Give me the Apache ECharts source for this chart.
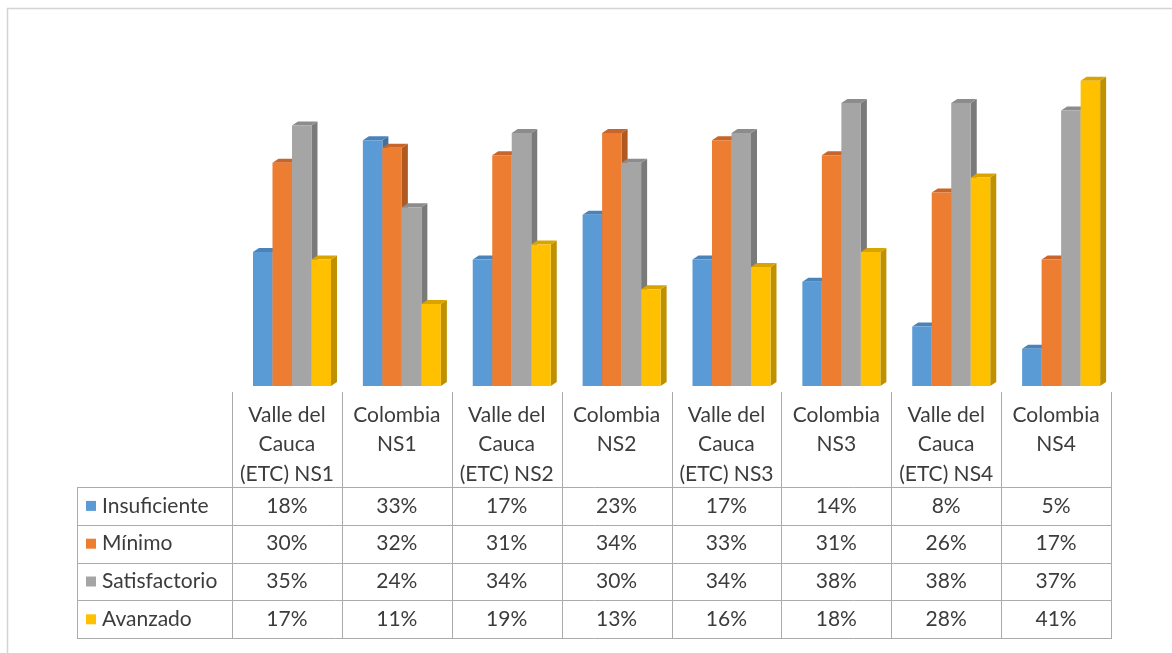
<!DOCTYPE html>
<html>
<head>
<meta charset="utf-8">
<script src="https://cdn.jsdelivr.net/npm/echarts@6/dist/echarts.min.js"></script>
<style>
html,body{margin:0;padding:0;background:#fff;}
#c{width:1172px;height:653px;}
</style>
</head>
<body>
<div id="c"></div>
<script>
const categories = [
  ["Valle del", "Cauca", "(ETC) NS1"],
  ["Colombia", "NS1"],
  ["Valle del", "Cauca", "(ETC) NS2"],
  ["Colombia", "NS2"],
  ["Valle del", "Cauca", "(ETC) NS3"],
  ["Colombia", "NS3"],
  ["Valle del", "Cauca", "(ETC) NS4"],
  ["Colombia", "NS4"]
];
const seriesNames = ["Insuficiente", "Mínimo", "Satisfactorio", "Avanzado"];
const insuficiente = [18, 33, 17, 23, 17, 14, 8, 5];
const minimo = [30, 32, 31, 34, 33, 31, 26, 17];
const satisfactorio = [35, 24, 34, 30, 34, 38, 38, 37];
const avanzado = [17, 11, 19, 13, 16, 18, 28, 41];
const seriesData = [insuficiente, minimo, satisfactorio, avanzado];

const frontColors = ["#5B9BD5", "#ED7D31", "#A5A5A5", "#FFC000"];
const sideColors = ["#41719C", "#AE5A21", "#7A7A7A", "#BF9000"];
const topColors = ["#4A83BA", "#C8652A", "#8C8C8C", "#D9A300"];

const FONT = "Lato, 'Open Sans', sans-serif";
const FSIZE = '21px ';
const TXT = "#3C3C3C";
const LINE = "#ABABAB";

const chart = echarts.init(document.getElementById('c'), null, {renderer: 'canvas'});

function renderBar(params, api) {
  const si = params.seriesIndex;
  const cat = api.value(0);
  const val = api.value(1);
  const base = api.coord([cat, 0]);
  const top = api.coord([cat, val]);
  const band = api.size([1, 0])[0];
  const bw = band * 0.1775;
  const dx = 6, dy = 4;
  const x = base[0] - band * 0.309 + si * bw;
  const ty = top[1], by = base[1];
  return {
    type: 'group',
    children: [
      {type: 'polygon', shape: {points: [[x + bw, ty], [x + bw + dx, ty - dy], [x + bw + dx, by - dy], [x + bw, by]]}, style: {fill: sideColors[si]}},
      {type: 'polygon', shape: {points: [[x, ty], [x + dx, ty - dy], [x + bw + dx, ty - dy], [x + bw, ty]]}, style: {fill: topColors[si]}},
      {type: 'rect', shape: {x: x, y: ty, width: bw, height: by - ty}, style: {fill: frontColors[si]}}
    ]
  };
}

const option = {
  animation: false,
  backgroundColor: '#fff',
  grid: {left: 232, right: 61, top: 51, bottom: 267},
  xAxis: {
    type: 'category',
    data: categories.map(c => c.join(' ')),
    axisLine: {show: false}, axisTick: {show: false}, axisLabel: {show: false}, splitLine: {show: false}
  },
  yAxis: {
    type: 'value', min: 0, max: 45, interval: 5,
    axisLine: {show: false}, axisTick: {show: false}, axisLabel: {show: false}, splitLine: {show: false}
  },
  series: seriesNames.map((name, si) => ({
    type: 'custom',
    name: name,
    renderItem: renderBar,
    encode: {x: 0, y: 1},
    data: seriesData[si].map((v, i) => [i, v])
  }))
};
chart.setOption(option);

// Data table drawn under the plot, aligned with the category axis
const g = [];
const colCenters = categories.map((c, i) => chart.convertToPixel({xAxisIndex: 0}, i));
const band = colCenters[1] - colCenters[0];
const colEdges = categories.map((c, i) => colCenters[i] - band / 2).concat([colCenters[colCenters.length - 1] + band / 2]);
const headTop = 392, headBottom = 487, rowH = 37.8;
const leftEdge = 77;
const lineStep = 29.5, firstLineY = 415;
const tableBottom = headBottom + rowH * seriesNames.length;

colEdges.forEach(x => {
  g.push({type: 'line', shape: {x1: Math.round(x) + 0.5, y1: headTop, x2: Math.round(x) + 0.5, y2: tableBottom}, style: {stroke: LINE, lineWidth: 1}});
});
g.push({type: 'line', shape: {x1: leftEdge + 0.5, y1: headBottom, x2: leftEdge + 0.5, y2: tableBottom}, style: {stroke: LINE, lineWidth: 1}});
for (let r = 0; r <= seriesNames.length; r++) {
  const y = Math.round(headBottom + r * rowH) + 0.5;
  g.push({type: 'line', shape: {x1: leftEdge, y1: y, x2: Math.round(colEdges[colEdges.length - 1]) + 1, y2: y}, style: {stroke: LINE, lineWidth: 1}});
}
categories.forEach((lines, i) => {
  lines.forEach((t, k) => {
    g.push({type: 'text', x: colCenters[i], y: firstLineY + k * lineStep, style: {text: t, fill: TXT, font: FSIZE + FONT, align: 'center', verticalAlign: 'middle'}});
  });
});
seriesNames.forEach((name, si) => {
  const cy = headBottom + si * rowH + rowH / 2;
  g.push({type: 'rect', shape: {x: 86, y: cy - 5, width: 10, height: 10}, style: {fill: frontColors[si]}});
  g.push({type: 'text', x: 102, y: cy, style: {text: name, fill: TXT, font: FSIZE + FONT, align: 'left', verticalAlign: 'middle'}});
  seriesData[si].forEach((v, i) => {
    g.push({type: 'text', x: colCenters[i], y: cy, style: {text: v + '%', fill: TXT, font: FSIZE + FONT, align: 'center', verticalAlign: 'middle'}});
  });
});
g.push({type: 'rect', shape: {x: 7.5, y: 8.5, width: 1300, height: 800}, style: {fill: null, stroke: '#D4D4D4', lineWidth: 1.5}});

chart.setOption({graphic: {elements: g}});
</script>
</body>
</html>
